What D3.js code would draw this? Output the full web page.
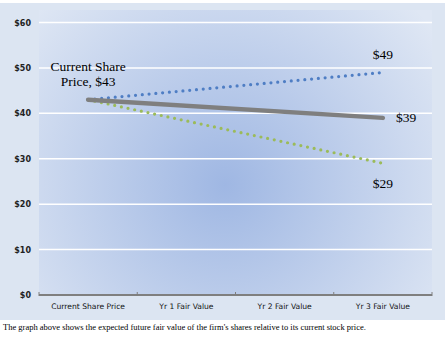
<!DOCTYPE html>
<html><head><meta charset="utf-8">
<script src="https://cdn.jsdelivr.net/npm/d3@7"></script>
<style>body{margin:0;background:#fff}svg{display:block}</style>
</head><body>
<svg id="c" width="447" height="338"></svg>
<script>
const categories = ["Current Share Price", "Yr 1 Fair Value", "Yr 2 Fair Value", "Yr 3 Fair Value"];
const highVals = [43, null, null, 49];
const baseVals = [43, null, null, 39];
const lowVals  = [43, null, null, 29];
const yTicks = [0, 10, 20, 30, 40, 50, 60];
const caption = "The graph above shows the expected future fair value of the firm's shares relative to its current stock price.";

const svg = d3.select("#c");
const defs = svg.append("defs");
const rg = defs.append("radialGradient").attr("id","pg")
  .attr("gradientUnits","userSpaceOnUse").attr("cx",225).attr("cy",185).attr("r",260);
rg.append("stop").attr("offset","0%").attr("stop-color","#9fb7e3");
rg.append("stop").attr("offset","100%").attr("stop-color","#dfe7f4");

svg.append("rect").attr("x",0).attr("y",3).attr("width",445).attr("height",317).attr("fill","#dce5f2");

const L = 39, R = 432, T = 10, B = 295;
svg.append("rect").attr("x",L).attr("y",T).attr("width",R-L).attr("height",B-T).attr("fill","url(#pg)");

const x = d3.scaleBand().domain(categories).range([L, R]);
const y = d3.scaleLinear().domain([0, 60]).range([B, 22.5]);

// gridlines
svg.append("g").selectAll("line").data(yTicks.filter(d=>d>0)).join("line")
  .attr("x1",L).attr("x2",R).attr("y1",d=>y(d)).attr("y2",d=>y(d))
  .attr("stroke","#ffffff").attr("stroke-width",1.5);

// y labels
svg.append("g").selectAll("text").data(yTicks).join("text")
  .attr("x",31).attr("y",d=>y(d)+3).attr("text-anchor","end")
  .attr("font-family","DejaVu Sans").attr("font-size",8).attr("font-weight","bold")
  .attr("fill","#222").text(d=>"$"+d);

// x axis
const xa = svg.append("g");
xa.append("line").attr("x1",L).attr("x2",R).attr("y1",B).attr("y2",B).attr("stroke","#7f7f7f").attr("stroke-width",2);
const bounds = categories.map(c=>x(c)).concat([R]);
xa.selectAll("line.t").data(bounds).join("line").attr("class","t")
  .attr("x1",d=>d).attr("x2",d=>d).attr("y1",B-3).attr("y2",B+1).attr("stroke","#7f7f7f").attr("stroke-width",1);
xa.selectAll("text").data(categories).join("text")
  .attr("x",d=>x(d)+x.bandwidth()/2).attr("y",309).attr("text-anchor","middle")
  .attr("font-family","DejaVu Sans").attr("font-size",7.6).attr("fill","#111").text(d=>d);

const line = d3.line().x(d=>x(d.c)+x.bandwidth()/2).y(d=>y(d.v));
function pts(vals){ return vals.map((v,i)=>({c:categories[i], v})).filter(d=>d.v!=null); }

svg.append("path").datum(pts(lowVals)).attr("d",line).attr("fill","none")
  .attr("stroke","#9bbb59").attr("stroke-width",3.2).attr("stroke-linecap","round").attr("stroke-dasharray","0 6.8");
svg.append("path").datum(pts(highVals)).attr("d",line).attr("fill","none")
  .attr("stroke","#4f7ec4").attr("stroke-width",3.2).attr("stroke-linecap","round").attr("stroke-dasharray","0 6.8");
svg.append("path").datum(pts(baseVals)).attr("d",line).attr("fill","none")
  .attr("stroke","#7f7f7f").attr("stroke-width",4.5).attr("stroke-linecap","round");

const lf = "Liberation Serif";
const lab = svg.append("g").attr("font-family",lf).attr("font-size",13.5).attr("fill","#000");
const cx3 = x(categories[3]) + x.bandwidth()/2;
lab.append("text").attr("x",cx3).attr("y",y(highVals[3])-13).attr("text-anchor","middle").text("$"+highVals[3]);
lab.append("text").attr("x",cx3+13).attr("y",y(baseVals[3])+4.5).attr("text-anchor","start").text("$"+baseVals[3]);
lab.append("text").attr("x",cx3).attr("y",y(lowVals[3])+25).attr("text-anchor","middle").text("$"+lowVals[3]);
const cx0 = x(categories[0]) + x.bandwidth()/2;
lab.append("text").attr("x",cx0).attr("y",71).attr("text-anchor","middle").text("Current Share");
lab.append("text").attr("x",cx0).attr("y",86).attr("text-anchor","middle").text("Price, $"+baseVals[0]);

svg.append("text").attr("x",3).attr("y",330).attr("font-family",lf).attr("font-size",8.5).attr("fill","#000").text(caption);
</script>
</body></html>
